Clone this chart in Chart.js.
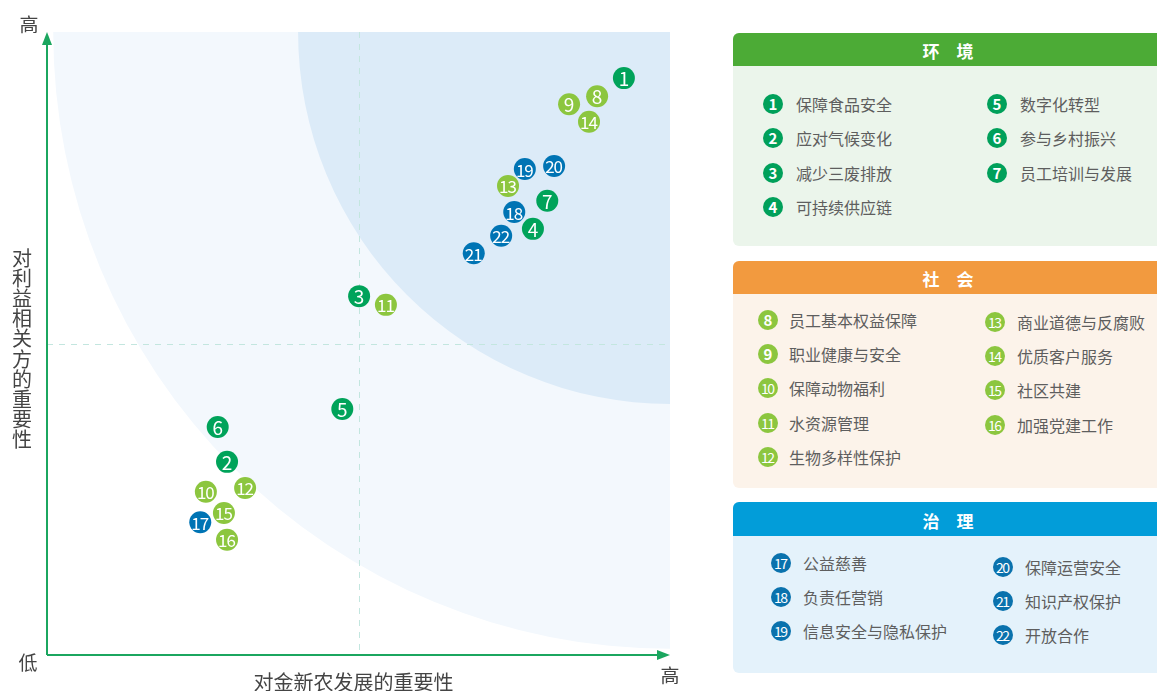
<!DOCTYPE html>
<html>
<head>
<meta charset="utf-8">
<script src="https://cdn.jsdelivr.net/npm/chart.js@4/dist/chart.umd.min.js"></script>
<style>
  html, body { margin: 0; padding: 0; background: #fff; overflow: hidden; }
  body { width: 1157px; height: 691px; position: relative; font-family: "Noto Sans CJK SC", "Noto Sans", sans-serif; }
  #wrap { position: absolute; left: 0; top: 0; width: 700px; height: 691px; }
  .panel { position: absolute; left: 733px; width: 440px; border-radius: 6px; overflow: hidden; }
  .head { position: absolute; left: 0; right: 0; top: 0; color: #fff; font-weight: bold; font-size: 17px; }
  .head span { position: absolute; transform: translate(-50%, -50%); }
  .item { position: absolute; color: #5e5e5e; font-size: 16px; white-space: nowrap; transform: translateY(-50%); }
  .badge { position: absolute; width: 20px; height: 20px; border-radius: 50%; color: #fff; font-size: 15px; font-weight: bold;
           line-height: 20px; text-align: center; transform: translate(-50%, -50%); }
  .badge.two { font-size: 14px; font-weight: normal; letter-spacing: -1.6px; text-indent: -1.5px; }
</style>
</head>
<body>
<div id="wrap"><canvas id="c" width="700" height="691"></canvas></div>
<div id="legend"></div>
<script>
// 议题名称（编号 1-22）
const issueNames = [
  '保障食品安全', '应对气候变化', '减少三废排放', '可持续供应链', '数字化转型', '参与乡村振兴', '员工培训与发展',
  '员工基本权益保障', '职业健康与安全', '保障动物福利', '水资源管理', '生物多样性保护',
  '商业道德与反腐败', '优质客户服务', '社区共建', '加强党建工作',
  '公益慈善', '负责任营销', '信息安全与隐私保护', '保障运营安全', '知识产权保护', '开放合作'
];
// 对金新农发展的重要性 (0-10)
const issueX = [9.26, 2.89, 5.01, 7.80, 4.74, 2.74, 8.03,
                8.83, 8.38, 2.55, 5.44, 3.18,
                7.40, 8.70, 2.84, 2.89,
                2.46, 7.50, 7.67, 8.14, 6.85, 7.29];
// 对利益相关方的重要性 (0-10)
const issueY = [9.26, 3.10, 5.76, 6.84, 3.95, 3.66, 7.29,
                8.97, 8.84, 2.62, 5.62, 2.68,
                7.53, 8.56, 2.28, 1.85,
                2.13, 7.11, 7.80, 7.85, 6.45, 6.73];
const groupNames = ['环境', '社会', '治理'];
const groupOf = [0,0,0,0,0,0,0, 1,1,1,1,1, 1,1,1,1, 2,2,2,2,2,2];
const groupColors = ['#00a35a', '#8cc63f', '#0074b4'];
const legendBadgeColors = ['#00a05a', '#8cc63f', '#0a72ad'];

// 图表
const datasets = groupNames.map((g, gi) => {
  const pts = [];
  issueX.forEach((x, i) => { if (groupOf[i] === gi) pts.push({ x: x, y: issueY[i], n: i + 1 }); });
  return { label: g, data: pts, backgroundColor: groupColors[gi], pointRadius: 11, pointHoverRadius: 11, borderWidth: 0 };
});

const bgPlugin = {
  id: 'bg',
  beforeDatasetsDraw(chart) {
    const ctx = chart.ctx, xs = chart.scales.x, ys = chart.scales.y, a = chart.chartArea;
    const cx = xs.getPixelForValue(10), cy = ys.getPixelForValue(10);
    const unit = xs.getPixelForValue(1) - xs.getPixelForValue(0);
    ctx.save();
    ctx.beginPath(); ctx.rect(a.left + 5, a.top, a.right - a.left - 5, a.bottom - a.top - 5); ctx.clip();
    ctx.fillStyle = '#f3f8fd';
    ctx.beginPath(); ctx.moveTo(cx, cy); ctx.arc(cx, cy, 9.9 * unit, 0, Math.PI * 2); ctx.fill();
    ctx.fillStyle = '#dcebf8';
    ctx.beginPath(); ctx.moveTo(cx, cy); ctx.arc(cx, cy, 5.97 * unit, 0, Math.PI * 2); ctx.fill();
    ctx.restore();

    // 中线
    ctx.save();
    ctx.strokeStyle = '#c3e6df'; ctx.lineWidth = 1; ctx.setLineDash([6, 6]);
    const mx = Math.round(xs.getPixelForValue(5)) + 0.5, my = Math.round(ys.getPixelForValue(5)) + 0.5;
    ctx.beginPath(); ctx.moveTo(mx, a.top); ctx.lineTo(mx, a.bottom); ctx.stroke();
    ctx.beginPath(); ctx.moveTo(a.left, my); ctx.lineTo(a.right, my); ctx.stroke();
    ctx.restore();

    // 坐标轴
    ctx.save();
    ctx.strokeStyle = '#1ba65f'; ctx.fillStyle = '#1ba65f'; ctx.lineWidth = 2;
    ctx.beginPath(); ctx.moveTo(a.left, a.bottom); ctx.lineTo(a.left, a.top + 10); ctx.stroke();
    ctx.beginPath(); ctx.moveTo(a.left, a.bottom); ctx.lineTo(a.right - 10, a.bottom); ctx.stroke();
    ctx.beginPath(); ctx.moveTo(a.left, a.top); ctx.lineTo(a.left - 5, a.top + 13); ctx.lineTo(a.left + 5, a.top + 13); ctx.closePath(); ctx.fill();
    ctx.beginPath(); ctx.moveTo(a.right, a.bottom); ctx.lineTo(a.right - 13, a.bottom - 5); ctx.lineTo(a.right - 13, a.bottom + 5); ctx.closePath(); ctx.fill();

    ctx.fillStyle = '#444'; ctx.font = '19px "Noto Sans CJK SC"';
    ctx.textAlign = 'center'; ctx.textBaseline = 'middle';
    ctx.fillText('高', 29, 25);
    ctx.fillText('低', 28, 663);
    ctx.fillText('高', 670, 676);
    ctx.font = '20px "Noto Sans CJK SC"';
    ctx.fillText('对金新农发展的重要性', (a.left + a.right) / 2 - 5, 682);
    const yt = '对利益相关方的重要性';
    for (let i = 0; i < yt.length; i++) ctx.fillText(yt[i], 22, 258 + i * 20.2);
    ctx.restore();
  },
  afterDatasetsDraw(chart) {
    const ctx = chart.ctx;
    ctx.save();
    ctx.fillStyle = '#fff'; ctx.textAlign = 'center'; ctx.textBaseline = 'middle';
    chart.data.datasets.forEach((ds, di) => {
      chart.getDatasetMeta(di).data.forEach((el, i) => {
        const n = String(ds.data[i].n);
        ctx.font = (n.length > 1 ? '17px' : '19px') + ' "Noto Sans CJK SC"';
        if (n.length > 1) {
          // 两位数字稍微收紧
          const w = ctx.measureText(n[0]).width;
          ctx.fillText(n[0], el.x - w / 2 + 0.5, el.y + 1);
          ctx.fillText(n[1], el.x + w / 2 - 0.5, el.y + 1);
        } else {
          ctx.fillText(n, el.x, el.y + 1);
        }
      });
    });
    ctx.restore();
  }
};

new Chart(document.getElementById('c'), {
  type: 'scatter',
  data: { datasets: datasets },
  options: {
    responsive: false,
    animation: false,
    layout: { padding: { left: 47, right: 30, top: 32, bottom: 36 } },
    scales: {
      x: { display: false, min: 0, max: 10 },
      y: { display: false, min: 0, max: 10 }
    },
    plugins: { legend: { display: false }, tooltip: { enabled: false } }
  },
  plugins: [bgPlugin]
});

// 右侧图例
const panels = [
  { top: 33, h: 213, head: 33, headColor: '#4cab36', body: '#ebf5eb', headY: 17,
    cols: [{ ix: 773, tx: 796, y0: 104 }, { ix: 997, tx: 1020, y0: 104 }], split: 4, step: 34.4 },
  { top: 261, h: 227, head: 33, headColor: '#f29a3f', body: '#fcf3ea', headY: 17,
    cols: [{ ix: 768, tx: 789, y0: 320 }, { ix: 995, tx: 1017, y0: 322 }], split: 5, step: 34.2 },
  { top: 502, h: 171, head: 34, headColor: '#029dd9', body: '#e4f2fb', headY: 18,
    cols: [{ ix: 781, tx: 803, y0: 563 }, { ix: 1003, tx: 1025, y0: 567 }], split: 3, step: 34.2 }
];
const legend = document.getElementById('legend');
panels.forEach((p, gi) => {
  const box = document.createElement('div');
  box.className = 'panel';
  box.style.top = p.top + 'px'; box.style.height = p.h + 'px'; box.style.background = p.body;
  const head = document.createElement('div');
  head.className = 'head';
  head.style.height = p.head + 'px'; head.style.background = p.headColor;
  [198, 232].forEach((cx, k) => {
    const hs = document.createElement('span');
    hs.style.top = p.headY + 'px'; hs.style.left = cx + 'px';
    hs.textContent = groupNames[gi][k];
    head.appendChild(hs);
  });
  box.appendChild(head);
  legend.appendChild(box);

  const idx = [];
  groupOf.forEach((g, i) => { if (g === gi) idx.push(i); });
  idx.forEach((i, k) => {
    const ci = k < p.split ? 0 : 1;
    const row = ci === 0 ? k : k - p.split;
    const col = p.cols[ci];
    const y = col.y0 + row * p.step;
    const b = document.createElement('div');
    b.className = 'badge' + (i + 1 > 9 ? ' two' : '');
    b.style.left = col.ix + 'px'; b.style.top = y + 'px';
    b.style.background = legendBadgeColors[gi];
    b.textContent = i + 1;
    const t = document.createElement('div');
    t.className = 'item';
    t.style.left = col.tx + 'px'; t.style.top = y + 'px';
    t.textContent = issueNames[i];
    legend.appendChild(b); legend.appendChild(t);
  });
});
</script>
</body>
</html>
